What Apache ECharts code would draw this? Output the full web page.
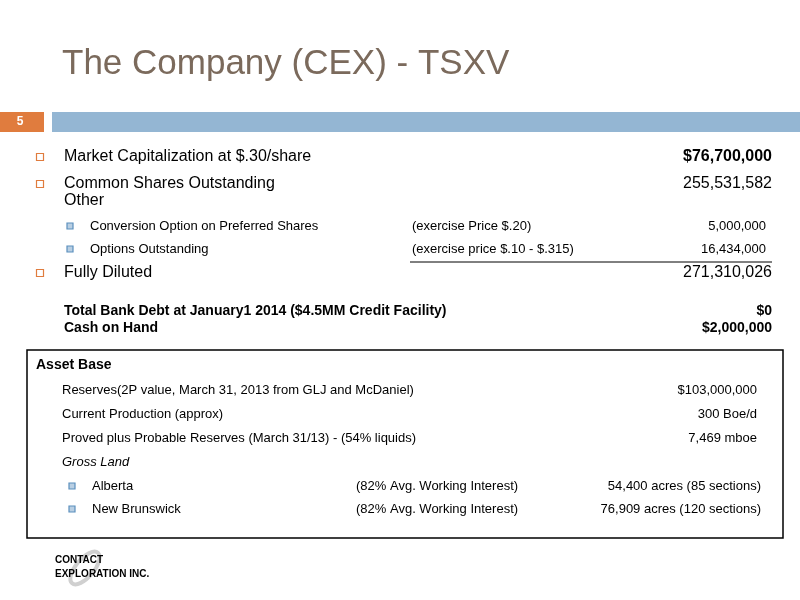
<!DOCTYPE html>
<html><head><meta charset="utf-8">
<script src="https://cdn.jsdelivr.net/npm/echarts@6/dist/echarts.min.js"></script>
<style>html,body{margin:0;padding:0;background:#fff}#c{width:800px;height:600px}</style>
</head><body><div id="c"></div>
<script>
const titleText = "The Company (CEX) - TSXV";
const slideNumber = "5";
const mainLabels = ["Market Capitalization at $.30/share", "Common Shares Outstanding", "Fully Diluted"];
const mainValues = ["$76,700,000", "255,531,582", "271,310,026"];
const subLabels = ["Conversion Option on Preferred Shares", "Options Outstanding"];
const subNotes = ["(exercise Price $.20)", "(exercise price $.10 - $.315)"];
const subValues = ["5,000,000", "16,434,000"];
const debtLabels = ["Total Bank Debt at January1 2014 ($4.5MM Credit Facility)", "Cash on Hand"];
const debtValues = ["$0", "$2,000,000"];
const assetLabels = ["Reserves(2P value, March 31, 2013 from GLJ and McDaniel)", "Current Production (approx)", "Proved plus Probable Reserves (March 31/13) - (54% liquids)"];
const assetValues = ["$103,000,000", "300 Boe/d", "7,469 mboe"];
const landLabels = ["Alberta", "New Brunswick"];
const landNotes = ["(82% Avg. Working Interest)", "(82% Avg. Working Interest)"];
const landValues = ["54,400 acres (85 sections)", "76,909 acres (120 sections)"];

const F = "'Liberation Sans', Arial, sans-serif";
const g = [];
function txt(x, y, s, o) {
  o = o || {};
  g.push({type:'text', x:x, y:y, style:{text:s, font:(o.style||'normal')+' '+(o.w||'normal')+' '+(o.size||16)+'px '+F, fill:o.c||'#000', textAlign:o.a||'left', textVerticalAlign:'middle'}});
}
function sq(x, y, s, c, f) {
  g.push({type:'rect', shape:{x:x-s/2, y:y-s/2, width:s, height:s}, style:{fill:f||'#fff', stroke:c, lineWidth:1.2}});
}
txt(62, 64, titleText, {size:35, c:'#7b6a5c'});
g.push({type:'rect', shape:{x:0, y:112, width:44, height:20}, style:{fill:'#e07c3e'}});
g.push({type:'rect', shape:{x:52, y:112, width:748, height:20}, style:{fill:'#94b6d3'}});
txt(20, 122, slideNumber, {size:12, w:'bold', c:'#fff', a:'center'});

const mainY = [157, 184, 273];
mainLabels.forEach((l, i) => {
  sq(40, mainY[i], 7, '#e07c3e');
  txt(64, mainY[i], l, {size:16});
  txt(772, mainY[i], mainValues[i], {size:16, w: i===0?'bold':'normal', a:'right'});
});
txt(64, 201, "Other", {size:16});
const subY = [226, 249];
subLabels.forEach((l, i) => {
  sq(70, subY[i], 6, '#5b8fbd', '#b9cfe3');
  txt(90, subY[i], l, {size:13});
  txt(412, subY[i], subNotes[i], {size:13});
  txt(766, subY[i], subValues[i], {size:13, a:'right'});
});
g.push({type:'line', shape:{x1:410, y1:262, x2:772, y2:262}, style:{stroke:'#000', lineWidth:1}});
const debtY = [311, 328];
debtLabels.forEach((l, i) => {
  txt(64, debtY[i], l, {size:14, w:'bold'});
  txt(772, debtY[i], debtValues[i], {size:14, w:'bold', a:'right'});
});

g.push({type:'rect', shape:{x:27, y:350, width:756, height:188}, style:{fill:'none', stroke:'#000', lineWidth:1.5}});
txt(36, 365, "Asset Base", {size:14, w:'bold'});
const assetY = [390, 414, 438];
assetLabels.forEach((l, i) => {
  txt(62, assetY[i], l, {size:13});
  txt(757, assetY[i], assetValues[i], {size:13, a:'right'});
});
txt(62, 462, "Gross Land", {size:13, style:'italic'});
const landY = [486, 509];
landLabels.forEach((l, i) => {
  sq(72, landY[i], 6, '#5b8fbd', '#b9cfe3');
  txt(92, landY[i], l, {size:13});
  txt(356, landY[i], landNotes[i], {size:13});
  txt(761, landY[i], landValues[i], {size:13, a:'right'});
});

// logo
g.push({type:'ellipse', shape:{cx:85, cy:568, rx:9, ry:20}, rotation:-0.7, originX:85, originY:568, style:{fill:'none', stroke:'#d0d0d0', lineWidth:4}});
txt(55, 560, "CONTACT", {size:10, w:'bold'});
txt(55, 574, "EXPLORATION INC.", {size:10, w:'bold'});

const chart = echarts.init(document.getElementById('c'));
chart.setOption({animation:false, graphic:g});
</script></body></html>
